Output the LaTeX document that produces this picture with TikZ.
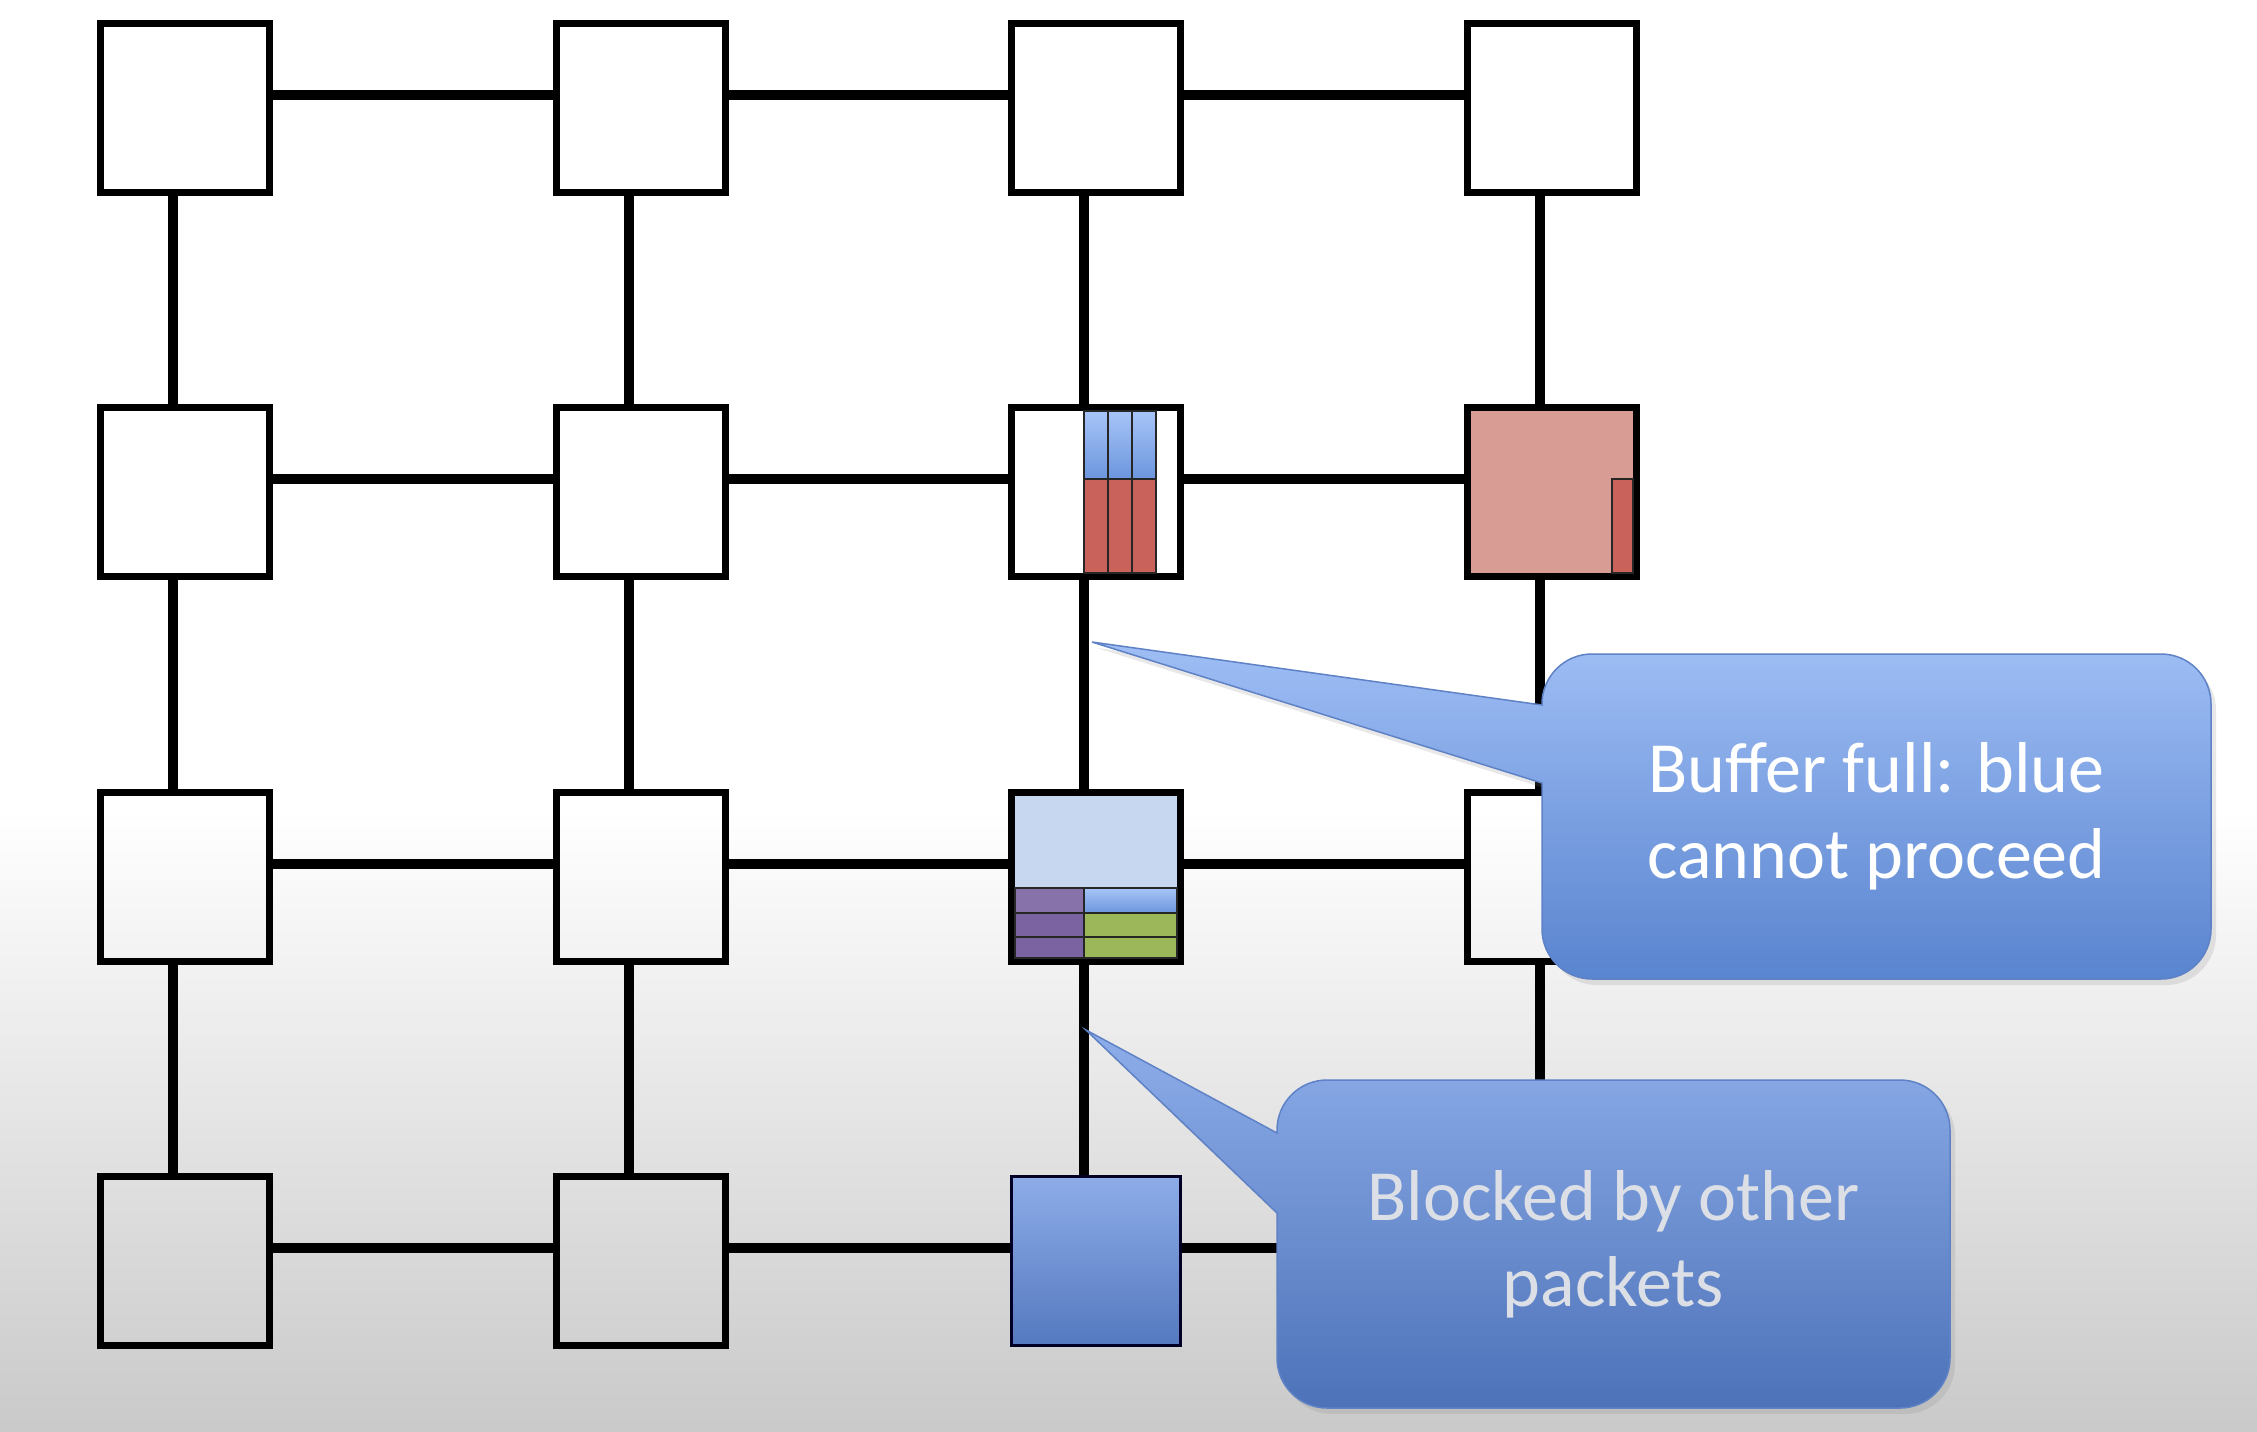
\documentclass[tikz,border=0pt]{standalone}
\usepackage{fontspec}
\setmainfont{Carlito}
\usepackage{xcolor}
\usepackage{tikz}
\usetikzlibrary{shadows}

\definecolor{bufred}{HTML}{C8625A}
\definecolor{bufsalmon}{HTML}{D89C95}
\definecolor{bufblueT}{HTML}{A7C4F7}
\definecolor{bufblueB}{HTML}{6C96DE}
\definecolor{buflight}{HTML}{C8D7F0}
\definecolor{bufpurple}{HTML}{7B62A0}
\definecolor{bufgreen}{HTML}{9BB75A}
\definecolor{pktT}{HTML}{8DACE8}
\definecolor{pktB}{HTML}{5579BF}
\definecolor{noteT}{HTML}{9FBEF5}
\definecolor{noteB}{HTML}{5984CF}
\definecolor{noteTT}{HTML}{8EAEEA}
\definecolor{noteBB}{HTML}{4D72B8}
\definecolor{noteline}{HTML}{5F82C6}
\definecolor{notegray}{HTML}{DCE0E6}

\tikzset{
  router/.style={draw, line width=0.07cm, minimum size=1.69cm, inner sep=0pt},
  link/.style={line width=0.10cm},
  flit/.style={draw=black!85, line width=0.012cm},
  callout/.style={draw=noteline, line width=0.015cm,
    drop shadow={opacity=0.18, shadow xshift=0.05cm, shadow yshift=-0.06cm}},
  note/.style={align=center, font=\fontsize{20.5}{24.5}\selectfont}
}

\begin{document}
\begin{tikzpicture}
\useasboundingbox (0,0) rectangle (22.57,-14.31);
\fill[white] (0,0) rectangle (22.57,-14.31);
\shade[top color=white, bottom color=black!21] (0,-8.1) rectangle (22.57,-14.31);

\node[router] (n11) at (1.85,-1.08) {};
\node[router] (n12) at (6.41,-1.08) {};
\node[router] (n13) at (10.96,-1.08) {};
\node[router] (n14) at (15.52,-1.08) {};
\node[router] (n21) at (1.85,-4.92) {};
\node[router] (n22) at (6.41,-4.92) {};
\node[router] (n23) at (10.96,-4.92) {};
\node[router, fill=bufsalmon] (n24) at (15.52,-4.92) {};
\node[router] (n31) at (1.85,-8.77) {};
\node[router] (n32) at (6.41,-8.77) {};
\node[router] (n33) at (10.96,-8.77) {};
\node[router] (n34) at (15.52,-8.77) {};
\node[router] (n41) at (1.85,-12.61) {};
\node[router] (n42) at (6.41,-12.61) {};
\node[router, draw=black!85!blue, line width=0.025cm, top color=pktT, bottom color=pktB] (n43) at (10.96,-12.61) {};
\node[router] (n44) at (15.52,-12.61) {};

\draw[link] ([yshift=0.13cm]n11.east) -- ([yshift=0.13cm]n12.west);
\draw[link] ([yshift=0.13cm]n12.east) -- ([yshift=0.13cm]n13.west);
\draw[link] ([yshift=0.13cm]n13.east) -- ([yshift=0.13cm]n14.west);
\draw[link] ([yshift=0.13cm]n21.east) -- ([yshift=0.13cm]n22.west);
\draw[link] ([yshift=0.13cm]n22.east) -- ([yshift=0.13cm]n23.west);
\draw[link] ([yshift=0.13cm]n23.east) -- ([yshift=0.13cm]n24.west);
\draw[link] ([yshift=0.13cm]n31.east) -- ([yshift=0.13cm]n32.west);
\draw[link] ([yshift=0.13cm]n32.east) -- ([yshift=0.13cm]n33.west);
\draw[link] ([yshift=0.13cm]n33.east) -- ([yshift=0.13cm]n34.west);
\draw[link] ([yshift=0.13cm]n41.east) -- ([yshift=0.13cm]n42.west);
\draw[link] ([yshift=0.13cm]n42.east) -- ([yshift=0.13cm]n43.west);
\draw[link] ([yshift=0.13cm]n43.east) -- ([yshift=0.13cm]n44.west);
\draw[link] ([xshift=-0.12cm]n11.south) -- ([xshift=-0.12cm]n21.north);
\draw[link] ([xshift=-0.12cm]n21.south) -- ([xshift=-0.12cm]n31.north);
\draw[link] ([xshift=-0.12cm]n31.south) -- ([xshift=-0.12cm]n41.north);
\draw[link] ([xshift=-0.12cm]n12.south) -- ([xshift=-0.12cm]n22.north);
\draw[link] ([xshift=-0.12cm]n22.south) -- ([xshift=-0.12cm]n32.north);
\draw[link] ([xshift=-0.12cm]n32.south) -- ([xshift=-0.12cm]n42.north);
\draw[link] ([xshift=-0.12cm]n13.south) -- ([xshift=-0.12cm]n23.north);
\draw[link] ([xshift=-0.12cm]n23.south) -- ([xshift=-0.12cm]n33.north);
\draw[link] ([xshift=-0.12cm]n33.south) -- ([xshift=-0.12cm]n43.north);
\draw[link] ([xshift=-0.12cm]n14.south) -- ([xshift=-0.12cm]n24.north);
\draw[link] ([xshift=-0.12cm]n24.south) -- ([xshift=-0.12cm]n34.north);
\draw[link] ([xshift=-0.12cm]n34.south) -- ([xshift=-0.12cm]n44.north);

\shade[flit, top color=bufblueT, bottom color=bufblueB] (10.84,-4.11) rectangle (11.08,-4.79);
\shade[flit, top color=bufblueT, bottom color=bufblueB] (11.08,-4.11) rectangle (11.32,-4.79);
\shade[flit, top color=bufblueT, bottom color=bufblueB] (11.32,-4.11) rectangle (11.56,-4.79);
\filldraw[flit, fill=bufred] (10.84,-4.79) rectangle (11.08,-5.73);
\filldraw[flit, fill=bufred] (11.08,-4.79) rectangle (11.32,-5.73);
\filldraw[flit, fill=bufred] (11.32,-4.79) rectangle (11.56,-5.73);
\filldraw[flit, fill=bufred] (16.12,-4.79) rectangle (16.33,-5.73);

\fill[buflight] (10.15,-7.96) rectangle (11.77,-8.88);
\filldraw[flit, fill=bufpurple!90!white] (10.15,-8.88) rectangle (10.84,-9.13);
\filldraw[flit, fill=bufpurple] (10.15,-9.13) rectangle (10.84,-9.37);
\filldraw[flit, fill=bufpurple] (10.15,-9.37) rectangle (10.84,-9.58);
\shade[flit, top color=bufblueT, bottom color=bufblueB] (10.84,-8.88) rectangle (11.77,-9.13);
\filldraw[flit, fill=bufgreen] (10.84,-9.13) rectangle (11.77,-9.37);
\filldraw[flit, fill=bufgreen] (10.84,-9.37) rectangle (11.77,-9.58);

\shade[callout, top color=noteT, bottom color=noteB] (15.92,-6.54) -- (21.61,-6.54)
  arc[start angle=90, end angle=0, radius=0.5] -- (22.11,-9.29)
  arc[start angle=0, end angle=-90, radius=0.5] -- (15.92,-9.79)
  arc[start angle=270, end angle=180, radius=0.5] -- (15.42,-7.83) -- (10.92,-6.42) -- (15.42,-7.05)
  -- (15.42,-7.04) arc[start angle=180, end angle=90, radius=0.5] -- cycle;
\shade[callout, top color=noteTT, bottom color=noteBB] (13.27,-10.80) -- (19.00,-10.80)
  arc[start angle=90, end angle=0, radius=0.5] -- (19.50,-13.58)
  arc[start angle=0, end angle=-90, radius=0.5] -- (13.27,-14.08)
  arc[start angle=270, end angle=180, radius=0.5] -- (12.77,-12.13) -- (10.86,-10.30) -- (12.77,-11.33)
  -- (12.77,-11.30) arc[start angle=180, end angle=90, radius=0.5] -- cycle;

\node[note, text=white] (full) at (18.765,-8.165) {Buffer full: blue\\cannot proceed};
\node[note, text=notegray] (blocked) at (16.135,-12.44) {Blocked by other\\packets};
\end{tikzpicture}
\end{document}
